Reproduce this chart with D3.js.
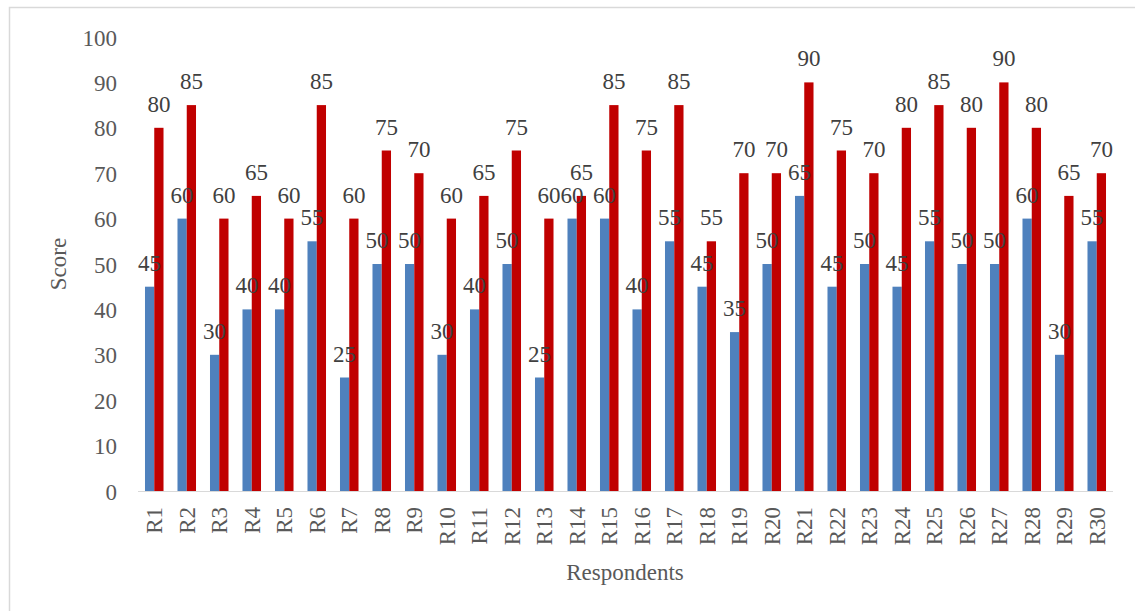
<!DOCTYPE html>
<html><head><meta charset="utf-8">
<script src="https://cdn.jsdelivr.net/npm/d3@7"></script>
<style>body{margin:0;background:#fff;} svg{display:block;font-family:"Liberation Serif","Times New Roman",serif;}</style>
</head><body>
<svg id="c" width="1135" height="611"></svg>
<script>
const categories = ["R1","R2","R3","R4","R5","R6","R7","R8","R9","R10","R11","R12","R13","R14","R15","R16","R17","R18","R19","R20","R21","R22","R23","R24","R25","R26","R27","R28","R29","R30"];
const seriesA = [45,60,30,40,40,55,25,50,50,30,40,50,25,60,60,40,55,45,35,50,65,45,50,45,55,50,50,60,30,55];
const seriesB = [80,85,60,65,60,85,60,75,70,60,65,75,60,65,85,75,85,55,70,70,90,75,70,80,85,80,90,80,65,70];
const yTicks = [0,10,20,30,40,50,60,70,80,90,100];

const FS = 23;
const svg = d3.select("#c");
svg.append("rect").attr("x",9.5).attr("y",7.5).attr("width",1140).attr("height",620)
  .attr("fill","#fff").attr("stroke","#d9d9d9").attr("stroke-width",1.5);

const x0 = 138, x1 = 1113, yTop = 37, yBot = 491;
const x = d3.scaleBand().domain(categories).range([x0,x1]).paddingInner(0.43).paddingOuter(0.215);
const xs = d3.scaleBand().domain(["a","b"]).range([0,x.bandwidth()]);
const y = d3.scaleLinear().domain([0,100]).range([yBot,yTop]);

const series = [{k:"a",v:seriesA,c:"#4F81BD"},{k:"b",v:seriesB,c:"#C00000"}];
series.forEach(s=>{
  svg.append("g").selectAll("rect").data(categories).join("rect")
    .attr("x",(d)=>x(d)+xs(s.k)).attr("width",xs.bandwidth())
    .attr("y",(d,i)=>y(s.v[i])).attr("height",(d,i)=>y(0)-y(s.v[i]))
    .attr("fill",s.c);
});

svg.append("line").attr("x1",x0).attr("x2",x1).attr("y1",yBot+0.5).attr("y2",yBot+0.5)
  .attr("stroke","#d9d9d9").attr("stroke-width",1);

const yAxis = d3.axisLeft(y).tickValues(yTicks).tickSize(0).tickPadding(0);
const gy = svg.append("g").attr("transform","translate(117,0)").call(yAxis);
gy.select(".domain").remove();
gy.selectAll("text").attr("font-size",FS).attr("fill","#595959")
  .attr("font-family","Liberation Serif, Times New Roman, serif").attr("dy","0.35em");

const xAxis = d3.axisBottom(x).tickSize(0).tickPadding(0);
const gx = svg.append("g").attr("transform",`translate(0,${yBot})`).call(xAxis);
gx.select(".domain").remove();
gx.selectAll("text").attr("font-size",FS).attr("fill","#595959")
  .attr("font-family","Liberation Serif, Times New Roman, serif")
  .attr("transform","rotate(-90)").attr("text-anchor","end")
  .attr("x",-16).attr("y",0).attr("dy","0.35em");

series.forEach(s=>{
  svg.append("g").selectAll("text").data(categories).join("text")
    .attr("x",(d)=>x(d)+xs(s.k)+xs.bandwidth()/2)
    .attr("y",(d,i)=>y(s.v[i])-16)
    .attr("text-anchor","middle").attr("font-size",FS).attr("fill","#404040")
    .text((d,i)=>s.v[i]);
});

svg.append("text").attr("transform","translate(66,264) rotate(-90)")
  .attr("text-anchor","middle").attr("font-size",FS).attr("fill","#595959").text("Score");
svg.append("text").attr("x",625).attr("y",580)
  .attr("text-anchor","middle").attr("font-size",FS).attr("fill","#595959").text("Respondents");
</script>
</body></html>
